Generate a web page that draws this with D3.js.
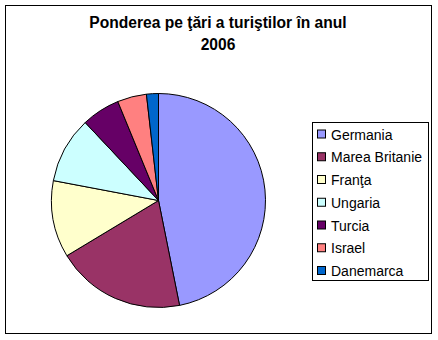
<!DOCTYPE html>
<html>
<head>
<meta charset="utf-8">
<script src="https://cdn.jsdelivr.net/npm/d3@7"></script>
<style>
  body { margin: 0; background: #fff; }
  text { font-family: "Liberation Sans", Arial, sans-serif; }
</style>
</head>
<body>
<div id="chart"></div>
<script>
const countries = ["Germania", "Marea Britanie", "Franţa", "Ungaria", "Turcia", "Israel", "Danemarca"];
const shares = [46.8, 19.5, 11.6, 10.0, 5.8, 4.4, 1.8];
const colors = ["#9999FF", "#993366", "#FFFFCC", "#CCFFFF", "#660066", "#FF8080", "#0066CC"];
const titleLines = ["Ponderea pe ţări a turiştilor în anul", "2006"];

const width = 438;
const height = 340;

const svg = d3.select("#chart")
  .append("svg")
  .attr("width", width)
  .attr("height", height);

// outer frame
svg.append("rect")
  .attr("x", 5.5).attr("y", 5.5)
  .attr("width", 426).attr("height", 328)
  .attr("fill", "#fff")
  .attr("stroke", "#000")
  .attr("stroke-width", 1);

// title
svg.append("g")
  .selectAll("text")
  .data(titleLines)
  .enter()
  .append("text")
  .attr("x", 218)
  .attr("y", (d, i) => 28 + i * 22)
  .attr("text-anchor", "middle")
  .attr("font-size", "15.6px")
  .attr("font-weight", "bold")
  .text(d => d);

// pie
const data = countries.map((c, i) => ({ name: c, value: shares[i] }));
const colorScale = d3.scaleOrdinal().domain(countries).range(colors);
const pie = d3.pie().value(d => d.value).sort(null);
const arc = d3.arc().innerRadius(0).outerRadius(107);

svg.append("g")
  .attr("transform", "translate(158.5,200.5)")
  .selectAll("path")
  .data(pie(data))
  .enter()
  .append("path")
  .attr("d", arc)
  .attr("fill", d => colorScale(d.data.name))
  .attr("stroke", "#000")
  .attr("stroke-width", 1);

// legend
const legend = svg.append("g");
legend.append("rect")
  .attr("x", 312.5).attr("y", 122.5)
  .attr("width", 116).attr("height", 158)
  .attr("fill", "#fff")
  .attr("stroke", "#000")
  .attr("stroke-width", 1);

const rowY = d3.scalePoint().domain(countries).range([134.5, 271]);

const rows = legend.selectAll("g.row")
  .data(countries)
  .enter()
  .append("g")
  .attr("class", "row")
  .attr("transform", d => `translate(0,${rowY(d)})`);

rows.append("rect")
  .attr("x", 317.5).attr("y", -4.5)
  .attr("width", 8).attr("height", 8)
  .attr("fill", d => colorScale(d))
  .attr("stroke", "#000")
  .attr("stroke-width", 1);

rows.append("text")
  .attr("x", 331)
  .attr("y", 5)
  .attr("font-size", "14px")
  .text(d => d);
</script>
</body>
</html>
